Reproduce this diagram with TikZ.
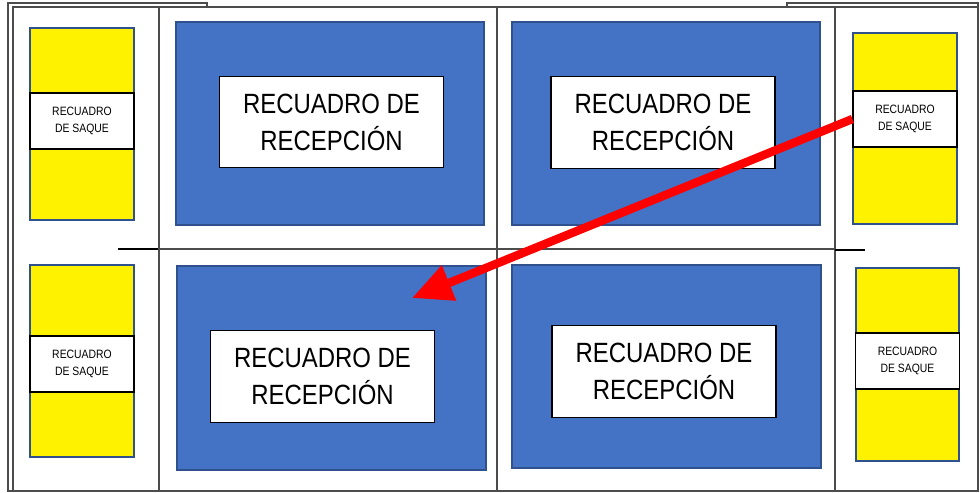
\documentclass[tikz,border=0pt]{standalone}
\usepackage{fontspec}
\setmainfont{Liberation Sans}[FakeStretch=0.86]
\usetikzlibrary{arrows.meta}
\tikzset{>=stealth}
\definecolor{azulcampo}{HTML}{4472C4}
\definecolor{bordeazul}{HTML}{2F528F}
\tikzset{
  marco/.style={draw=black!70, line width=1.5pt},
  zona/.style={draw=bordeazul, fill=azulcampo, line width=1.2pt},
  saque/.style={draw=bordeazul, fill=yellow, line width=1.2pt},
  recbox/.style={draw=black, fill=white, line width=0.8pt, minimum width=5.6cm,
    minimum height=2.28cm, align=center, inner sep=0pt,
    font=\fontsize{19.8}{26.2}\selectfont},
  saquebox/.style={draw=black, fill=white, line width=0.8pt, minimum width=2.6cm,
    minimum height=1.4cm, align=center, inner sep=0pt,
    font=\fontsize{8.6}{12}\selectfont},
  flecha/.style={->, red, line width=6pt, >={Triangle[length=1cm, width=0.9cm]}}
}

\begin{document}
\begin{tikzpicture}[x=0.025cm, y=-0.025cm]
\useasboundingbox (0,0) rectangle (980,493);
% marcos
\draw[marco, fill=white] (8,3) rectangle (207,491);
\draw[marco, fill=white] (787,3) rectangle (978,491);
\draw[marco, fill=white] (13,7) rectangle (159,491);
\draw[marco, fill=white] (835,7) rectangle (978,491);
\draw[marco, fill=white] (159,7) rectangle (835,491);
\draw[marco] (159,249) -- (835,249);
\draw[marco] (497,7) -- (497,491);
\draw[line width=2pt] (118,249) -- (158,249);
\draw[line width=1.5pt] (835,250) -- (865,250);
% recepcion
\draw[zona] (176,22) rectangle (484,225);
\draw[zona] (512,22) rectangle (820,225);
\draw[zona] (177,266) rectangle (486,470);
\draw[zona] (512,265) rectangle (821,468);
\node[recbox] (recTL) at (331.5,122) {RECUADRO DE\\RECEPCIÓN};
\node[recbox] (recTR) at (663,122.5) {RECUADRO DE\\RECEPCIÓN};
\node[recbox] (recBL) at (322.5,376.5) {RECUADRO DE\\RECEPCIÓN};
\node[recbox] (recBR) at (664,371.5) {RECUADRO DE\\RECEPCIÓN};
% saque
\draw[saque] (30,28) rectangle (134,220);
\draw[saque] (30,265) rectangle (134,457);
\draw[saque] (853,33) rectangle (957,224);
\draw[saque] (856,268) rectangle (959,461);
\node[saquebox] (saqueTL) at (82,121) {RECUADRO\\DE SAQUE};
\node[saquebox] (saqueBL) at (82,364) {RECUADRO\\DE SAQUE};
\node[saquebox] (saqueTR) at (905,119) {RECUADRO\\DE SAQUE};
\node[saquebox] (saqueBR) at (907.5,361) {RECUADRO\\DE SAQUE};
% trayectoria
\coordinate (punta) at (412,298);
\draw[flecha] (saqueTR.west) -- (punta);
\end{tikzpicture}
\end{document}
